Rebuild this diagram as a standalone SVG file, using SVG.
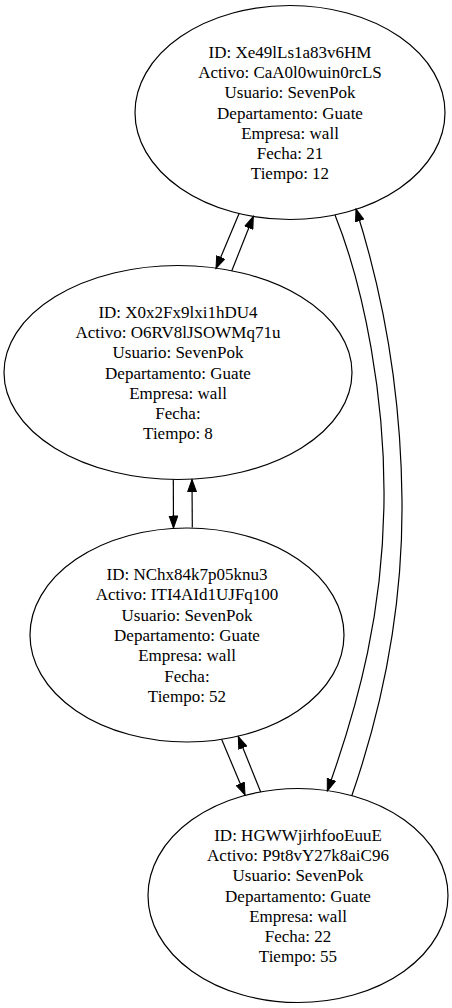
<svg xmlns="http://www.w3.org/2000/svg" width="452" height="1008" viewBox="0 0 452 1008">
<style>
.n ellipse{fill:none;stroke:#000;stroke-width:1.2}
.n text{font-size:17px;fill:#000;text-anchor:middle}
.e path{fill:none;stroke:#000;stroke-width:1.2;marker-end:url(#ah)}
</style>
<defs>
<marker id="ah" markerUnits="userSpaceOnUse" markerWidth="14" markerHeight="10" viewBox="0 -5 13 10" refX="12" refY="0" orient="auto">
<path d="M0,-4.3 L12,0 L0,4.3 z" fill="#000" stroke="#000" stroke-width="1"/>
</marker>
</defs>
<rect width="452" height="1008" fill="#fff"/>
<g id="edges" class="e">
<path d="M239.3,213 L216,268.5"/>
<path d="M231.7,271 L253.3,216.5"/>
<path d="M173.3,479.5 L173.5,528"/>
<path d="M192.3,527.5 L192,479.5"/>
<path d="M221.7,739.5 L245,795"/>
<path d="M260.7,792 L238.3,736.5"/>
<path d="M335,215 C365,290 385,400 384,500 C383,610 360,700 327.3,791"/>
<path d="M351.7,796 C385,700 403,600 402,500 C401,400 385,300 356,209"/>
</g>
<g id="node1" class="n" font-family="Liberation Serif, Times New Roman, serif">
<ellipse cx="290" cy="112.5" rx="155" ry="107"/>
<text x="290" y="57.6">ID: Xe49lLs1a83v6HM</text>
<text x="290" y="77.9">Activo: CaA0l0wuin0rcLS</text>
<text x="290" y="98.2">Usuario: SevenPok</text>
<text x="290" y="118.5">Departamento: Guate</text>
<text x="290" y="138.8">Empresa: wall</text>
<text x="290" y="159.1">Fecha: 21</text>
<text x="290" y="179.4">Tiempo: 12</text>
</g>
<g id="node2" class="n" font-family="Liberation Serif, Times New Roman, serif">
<ellipse cx="178" cy="372.5" rx="174" ry="107"/>
<text x="178" y="317.6">ID: X0x2Fx9lxi1hDU4</text>
<text x="178" y="337.9">Activo: O6RV8lJSOWMq71u</text>
<text x="178" y="358.2">Usuario: SevenPok</text>
<text x="178" y="378.5">Departamento: Guate</text>
<text x="178" y="398.8">Empresa: wall</text>
<text x="178" y="419.1">Fecha: </text>
<text x="178" y="439.4">Tiempo: 8</text>
</g>
<g id="node3" class="n" font-family="Liberation Serif, Times New Roman, serif">
<ellipse cx="187" cy="635" rx="157" ry="107"/>
<text x="187" y="580.1">ID: NChx84k7p05knu3</text>
<text x="187" y="600.4">Activo: ITI4AId1UJFq100</text>
<text x="187" y="620.7">Usuario: SevenPok</text>
<text x="187" y="641">Departamento: Guate</text>
<text x="187" y="661.3">Empresa: wall</text>
<text x="187" y="681.6">Fecha: </text>
<text x="187" y="701.9">Tiempo: 52</text>
</g>
<g id="node4" class="n" font-family="Liberation Serif, Times New Roman, serif">
<ellipse cx="298" cy="895.5" rx="150" ry="107"/>
<text x="298" y="840.6">ID: HGWWjirhfooEuuE</text>
<text x="298" y="860.9">Activo: P9t8vY27k8aiC96</text>
<text x="298" y="881.2">Usuario: SevenPok</text>
<text x="298" y="901.5">Departamento: Guate</text>
<text x="298" y="921.8">Empresa: wall</text>
<text x="298" y="942.1">Fecha: 22</text>
<text x="298" y="962.4">Tiempo: 55</text>
</g>
</svg>
